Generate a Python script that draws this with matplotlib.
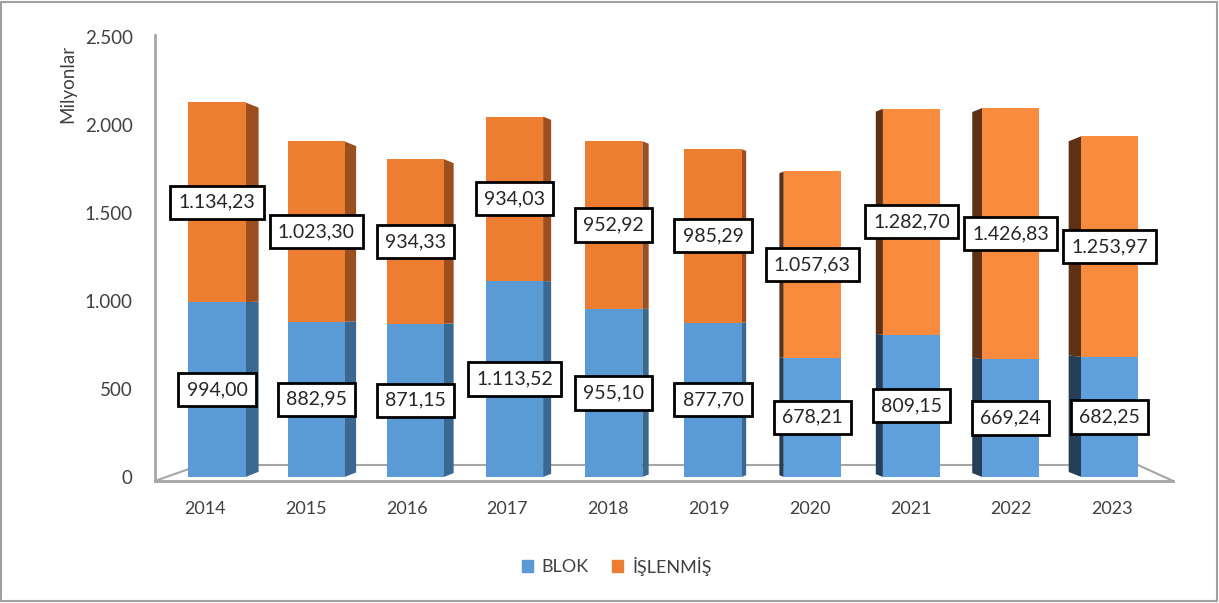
import matplotlib
matplotlib.use('Agg')
import matplotlib.pyplot as plt
from matplotlib.patches import Polygon, Patch, Rectangle
import numpy as np

plt.rcParams['font.family'] = ['Lato', 'DejaVu Sans']

years = ['2014', '2015', '2016', '2017', '2018', '2019', '2020', '2021', '2022', '2023']
blok = [994.00, 882.95, 871.15, 1113.52, 955.10, 877.70, 678.21, 809.15, 669.24, 682.25]
islenmis = [1134.23, 1023.30, 934.33, 934.03, 952.92, 985.29, 1057.63, 1282.70, 1426.83, 1253.97]
y_ticks = [0, 500, 1000, 1500, 2000, 2500]


def tr_num(v, dec=2):
    s = f'{v:,.{dec}f}'
    return s.replace(',', '#').replace('.', ',').replace('#', '.')


fig = plt.figure(figsize=(12.19, 6.03), dpi=100)
ax = fig.add_axes([155 / 1219, 113 / 603, 1018 / 1219, 453 / 603])

n = len(years)
x = np.arange(n)
w = 0.575
blok = np.array(blok)
islenmis = np.array(islenmis)
total = blok + islenmis

# front faces (bars on the right side of the 3D view are lit a bit brighter)
left = x < 6
blue_front = np.where(left, '#5B9BD5', '#5FA0DC')
orange_front = np.where(left, '#ED7D31', '#F88B3E')
ax.bar(x, blok, w, color=blue_front, zorder=3)
ax.bar(x, islenmis, w, bottom=blok, color=orange_front, zorder=3)

# side faces for the fake 3D look
for i in range(n):
    if left[i]:
        d = 0.035 + 0.017 * (5.7 - i)
        edge = x[i] + w / 2
        outer = edge + d
        side_b, side_o = '#3A6891', '#9C4F1E'
    else:
        d = 0.035 + 0.028 * (i - 5.7)
        edge = x[i] - w / 2
        outer = edge - d
        side_b, side_o = '#253F58', '#5E3114'
    dy = d * 225
    tot = total[i]

    def oy(y):
        return y + dy * (1 - 2 * y / tot)

    for y0, y1, col in [(0, blok[i], side_b), (blok[i], tot, side_o)]:
        ax.add_patch(Polygon([(edge, y0), (edge, y1), (outer, oy(y1)), (outer, oy(y0))],
                             closed=True, facecolor=col, edgecolor='none', zorder=2))

# value labels
box = dict(boxstyle='square,pad=0.42', facecolor='white', edgecolor='black', linewidth=2)
for i in range(n):
    ax.text(x[i], blok[i] / 2, tr_num(blok[i]), ha='center', va='center',
            fontsize=14, color='#262626', bbox=box, zorder=5)
    ax.text(x[i], blok[i] + islenmis[i] / 2, tr_num(islenmis[i]), ha='center', va='center',
            fontsize=14, color='#262626', bbox=box, zorder=5)

ax.set_xlim(-0.625, 9.637)
ax.set_ylim(-74, 2500)
for s in ax.spines.values():
    s.set_visible(False)

# floor and vertical axis
gray = '#A6A6A6'
ax.plot([0, 1], [0.0199, 0.0199], transform=ax.transAxes, color=gray, lw=2, clip_on=False, zorder=1)
ax.plot([0.0442, 0.9656], [0.0552, 0.0552], transform=ax.transAxes, color=gray, lw=1.5, clip_on=False, zorder=1)
ax.plot([0, 0.0442], [0.0199, 0.0552], transform=ax.transAxes, color=gray, lw=1.5, clip_on=False, zorder=1)
ax.plot([0.9656, 1], [0.0552, 0.0199], transform=ax.transAxes, color=gray, lw=1.5, clip_on=False, zorder=1)
ax.plot([0, 0], [0.0199, 1.004], transform=ax.transAxes, color=gray, lw=2, clip_on=False, zorder=1)

ax.set_yticks(y_ticks)
ax.set_yticklabels([tr_num(v, 0) for v in y_ticks])
ax.tick_params(axis='y', length=0, pad=16, labelsize=13.5, labelcolor='#404040')
ax.set_xticks(x * 1.016 - 0.12)
ax.set_xticklabels(years)
ax.tick_params(axis='x', length=0, pad=8, labelsize=13, labelcolor='#404040')

fig.text(68 / 1219, 1 - 84 / 603, 'Milyonlar', rotation=90, ha='center', va='center',
         fontsize=13.5, color='#404040')

handles = [Patch(color='#5B9BD5', label='BLOK'), Patch(color='#ED7D31', label='İŞLENMİŞ')]
fig.legend(handles=handles, loc='center', bbox_to_anchor=(0.506, 1 - 566 / 603), ncol=2,
           frameon=False, fontsize=13, handlelength=0.6, handleheight=0.6,
           handletextpad=0.5, columnspacing=1.3, labelcolor='#404040')

fig.patches.append(Rectangle((0.0008, 0.004), 0.9975, 0.9935, transform=fig.transFigure,
                             fill=False, edgecolor='#A0A0A0', linewidth=1.5))

fig.savefig('out.png', dpi=100)
